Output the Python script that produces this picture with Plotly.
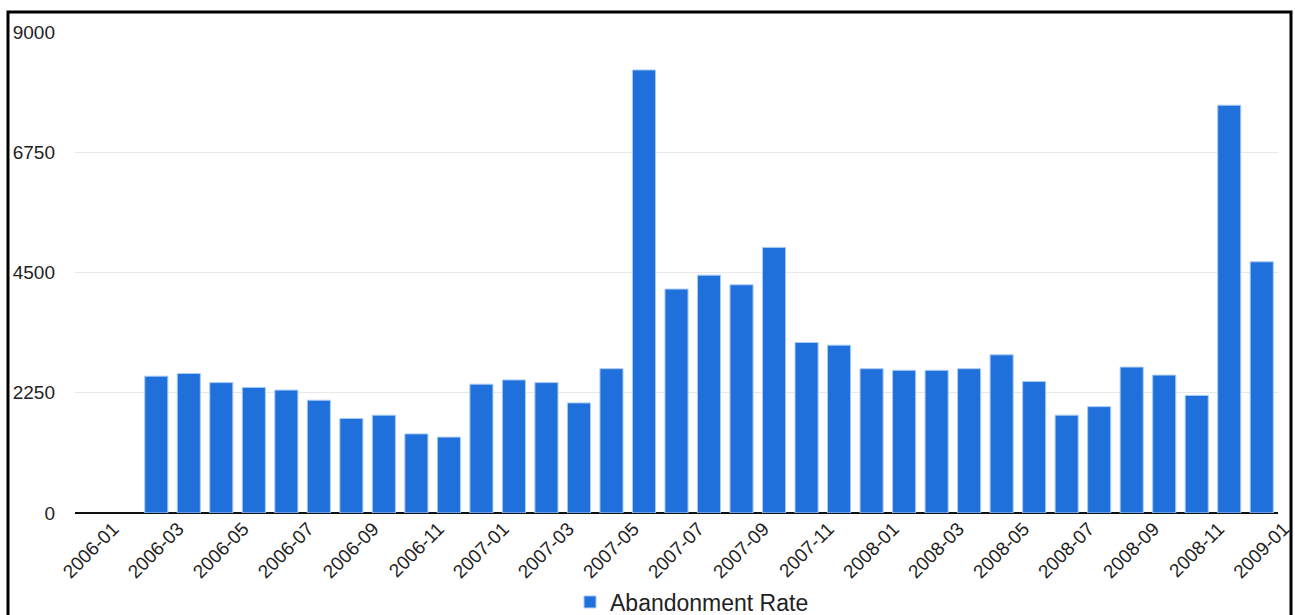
import plotly.graph_objects as go

# Monthly periods on the category axis
months = [f"{y}-{m:02d}" for y in (2006, 2007, 2008) for m in range(1, 13)] + ["2009-01"]

# Abandonment rate per month (no data for the first two months)
abandonment = [
    None, None,
    2560, 2610, 2440, 2350, 2300, 2110, 1770, 1830, 1480, 1420,
    2410, 2490, 2440, 2060, 2700, 8290, 4190, 4450, 4270, 4970, 3190, 3140,
    2700, 2670, 2670, 2700, 2960, 2460, 1830, 1990, 2730, 2580, 2200, 7630,
    4700,
]

# Axis ticks
y_ticks = [0, 2250, 4500, 6750, 9000]
x_tick_labels = months[::2]

idx = list(range(len(months)))

FONT = "Liberation Sans, Arial, Helvetica, sans-serif"

# Figure geometry (pixels); the canvas runs a little below the visible page
W, H = 1295, 640
ML, MR, MT = 75, 17, 32
BASE = 513                          # pixel row of the zero line
MB = H - BASE
plot_w = W - ML - MR
plot_h = BASE - MT
px = lambda v: (v - ML) / plot_w    # pixel -> paper (x)
py = lambda v: (BASE - v) / plot_h  # pixel -> paper (y)

fig = go.Figure(
    go.Bar(
        x=idx,
        y=abandonment,
        name="Abandonment Rate",
        marker=dict(color="#2070db", line=dict(color="#a9cbf7", width=1)),
        hovertext=months,
    )
)

fig.update_layout(
    width=W,
    height=H,
    margin=dict(l=ML, r=MR, t=MT, b=MB),
    paper_bgcolor="white",
    plot_bgcolor="white",
    bargap=0.29,
    font=dict(family=FONT, size=19, color="#222222"),
    showlegend=True,
    legend=dict(
        orientation="h",
        x=px(692),
        xanchor="center",
        y=py(602),
        yanchor="middle",
        bgcolor="rgba(0,0,0,0)",
        font=dict(size=23, color="#222222"),
        itemwidth=30,
    ),
    xaxis=dict(
        range=[-0.5, len(months) - 0.5],
        tickmode="array",
        tickvals=idx[::2],
        ticktext=x_tick_labels,
        tickangle=-45,
        ticklabelshift=22,
        ticklabeloverflow="allow",
        showgrid=False,
        zeroline=False,
        showline=False,
        ticks="",
        tickfont=dict(size=19),
        automargin=False,
    ),
    yaxis=dict(
        range=[0, 9000],
        tickmode="array",
        tickvals=y_ticks,
        showgrid=True,
        gridcolor="#e8e8e8",
        gridwidth=1,
        zeroline=True,
        zerolinecolor="#111111",
        zerolinewidth=1.5,
        ticks="",
        ticklabelstandoff=19,
        tickfont=dict(size=19),
        automargin=False,
    ),
    shapes=[
        dict(
            type="rect",
            xref="paper",
            yref="paper",
            x0=px(8),
            x1=px(1291),
            y0=py(636),
            y1=py(12),
            line=dict(color="black", width=3),
            fillcolor="rgba(0,0,0,0)",
            layer="above",
        )
    ],
)

fig.write_html("out.html")
